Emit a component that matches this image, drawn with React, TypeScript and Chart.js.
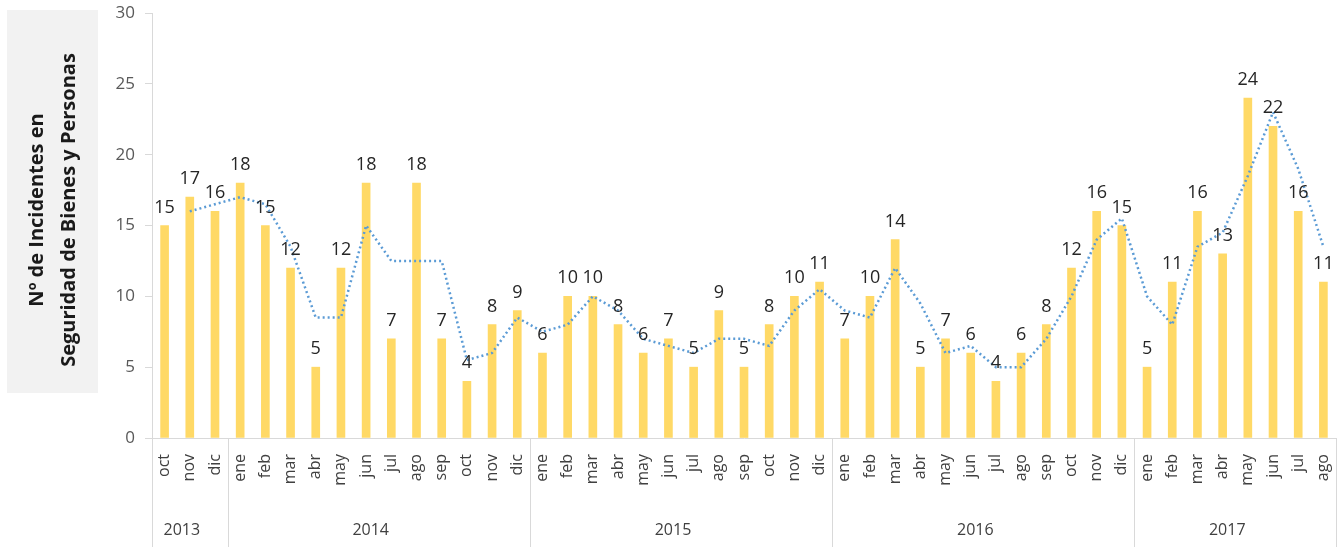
import React, { useEffect, useRef } from "react";
import { Chart, registerables } from "chart.js";
Chart.register(...registerables);

const months = [
  "oct", "nov", "dic",
  "ene", "feb", "mar", "abr", "may", "jun", "jul", "ago", "sep", "oct", "nov", "dic",
  "ene", "feb", "mar", "abr", "may", "jun", "jul", "ago", "sep", "oct", "nov", "dic",
  "ene", "feb", "mar", "abr", "may", "jun", "jul", "ago", "sep", "oct", "nov", "dic",
  "ene", "feb", "mar", "abr", "may", "jun", "jul", "ago",
];
const years = ["2013", "2014", "2015", "2016", "2017"];
const monthsPerYear = [3, 12, 12, 12, 8];

const incidents = [
  15, 17, 16,
  18, 15, 12, 5, 12, 18, 7, 18, 7, 4, 8, 9,
  6, 10, 10, 8, 6, 7, 5, 9, 5, 8, 10, 11,
  7, 10, 14, 5, 7, 6, 4, 6, 8, 12, 16, 15,
  5, 11, 16, 13, 24, 22, 16, 11,
];

// dotted trend line (2-period moving average as shown in the picture)
const trend: (number | null)[] = [
  null, 16, 16.5,
  17, 16.5, 13.5, 8.5, 8.5, 15, 12.5, 12.5, 12.5, 5.5, 6, 8.5,
  7.5, 8, 10, 9, 7, 6.5, 6, 7, 7, 6.5, 9, 10.5,
  9, 8.5, 12, 9.5, 6, 6.5, 5, 5, 7, 10, 14, 15.5,
  10, 8, 13.5, 14.5, 18.5, 23, 19, 13.5,
];

const yMin = 0;
const yMax = 30;
const yStep = 5;

const titleLines = ["Nº de Incidentes en", "Seguridad de Bienes y Personas"];

const FONT = "'Open Sans', Lato, sans-serif";
const W = 1343;
const H = 547;

export default function App() {
  const ref = useRef<HTMLCanvasElement | null>(null);

  useEffect(() => {
    const canvas = ref.current;
    if (!canvas) return;

    const bgPlugin = {
      id: "bgTitle",
      beforeDraw(chart: any) {
        const ctx = chart.ctx;
        ctx.save();
        ctx.fillStyle = "#f2f2f2";
        ctx.fillRect(7, 10, 91, 383);
        ctx.fillStyle = "#1a1a1a";
        ctx.font = `bold 20px ${FONT}`;
        ctx.textAlign = "center";
        ctx.textBaseline = "middle";
        ctx.translate(53, 210);
        ctx.rotate(-Math.PI / 2);
        ctx.fillText(titleLines[0], 0, -16);
        ctx.fillText(titleLines[1], 0, 16);
        ctx.restore();
      },
    };

    const labelsPlugin = {
      id: "valueLabels",
      afterDatasetsDraw(chart: any) {
        const ctx = chart.ctx;
        const meta = chart.getDatasetMeta(0);
        ctx.save();
        ctx.fillStyle = "#262626";
        ctx.font = `18px ${FONT}`;
        ctx.textAlign = "center";
        ctx.textBaseline = "alphabetic";
        meta.data.forEach((el: any, i: number) => {
          ctx.fillText(String(incidents[i]), el.x, el.y - 13);
        });
        ctx.restore();
      },
    };

    const yearsPlugin = {
      id: "yearGroups",
      afterDraw(chart: any) {
        const ctx = chart.ctx;
        const xs = chart.scales.x;
        const area = chart.chartArea;
        ctx.save();
        ctx.strokeStyle = "#d9d9d9";
        ctx.lineWidth = 1;
        let start = 0;
        const bounds: number[] = [0];
        monthsPerYear.forEach((n) => {
          start += n;
          bounds.push(start);
        });
        bounds.forEach((b) => {
          let x = b === 0 ? area.left : b === months.length ? area.right : xs.getPixelForValue(b - 0.5);
          x = Math.round(x) + 0.5;
          ctx.beginPath();
          ctx.moveTo(x, area.bottom);
          ctx.lineTo(x, H);
          ctx.stroke();
        });
        ctx.fillStyle = "#404040";
        ctx.font = `16px ${FONT}`;
        ctx.textAlign = "center";
        ctx.textBaseline = "middle";
        years.forEach((y, i) => {
          const a = xs.getPixelForValue(bounds[i] - 0.5);
          const b = xs.getPixelForValue(bounds[i + 1] - 0.5);
          ctx.fillText(y, (a + b) / 2 - 8, 530);
        });
        ctx.restore();
      },
    };

    const chart = new Chart(canvas, {
      type: "bar",
      data: {
        labels: months,
        datasets: [
          {
            type: "bar",
            data: incidents,
            backgroundColor: "#FFD966",
            barThickness: 8,
            order: 1,
          },
          {
            type: "line",
            data: trend,
            borderColor: "#5B9BD5",
            borderWidth: 2.5,
            borderDash: [2, 3],
            pointRadius: 0,
            tension: 0,
            fill: false,
            order: 0,
          } as any,
        ],
      },
      options: {
        responsive: false,
        animation: false,
        layout: { padding: { left: 0, right: 7, top: 13, bottom: 0 } },
        plugins: {
          legend: { display: false },
          tooltip: { enabled: false },
        },
        scales: {
          x: {
            offset: true,
            grid: { display: false, drawTicks: false },
            border: { display: true, color: "#d9d9d9", width: 1 },
            ticks: {
              autoSkip: false,
              minRotation: 90,
              maxRotation: 90,
              padding: 16,
              color: "#404040",
              font: { size: 16, family: FONT },
            },
            afterFit: (s: any) => {
              s.height = 109;
              s.paddingLeft = 0;
              s.paddingRight = 0;
            },
          },
          y: {
            min: yMin,
            max: yMax,
            ticks: {
              stepSize: yStep,
              padding: 10,
              color: "#595959",
              font: { size: 17, family: FONT },
            },
            grid: {
              drawOnChartArea: false,
              drawTicks: true,
              tickLength: 7,
              color: "#d9d9d9",
            },
            border: { display: true, color: "#d9d9d9", width: 1 },
            afterFit: (s: any) => {
              s.width = 152;
              s.paddingTop = 0;
              s.paddingBottom = 0;
            },
          },
        },
      },
      plugins: [bgPlugin, labelsPlugin, yearsPlugin],
    });

    return () => chart.destroy();
  }, []);

  return (
    <div style={{ position: "absolute", left: 0, top: 0, width: W, height: H, background: "#fff" }}>
      <canvas ref={ref} width={W} height={H} style={{ display: "block", width: W, height: H }} />
    </div>
  );
}
